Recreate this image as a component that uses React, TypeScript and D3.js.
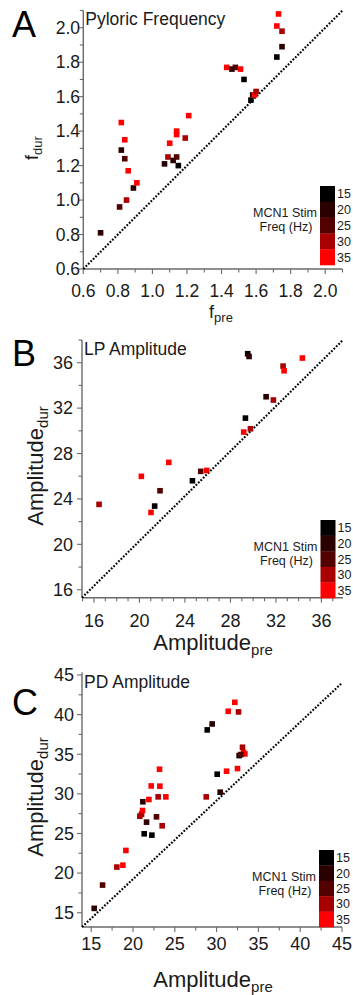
import React from 'react';
import * as d3 from 'd3';

// ---------- data ----------
const FREQS = [15, 20, 25, 30, 35];
const FREQ_COLORS = ['#000000', '#2b0000', '#520000', '#a80000', '#ff0000'];

// Panel A: Pyloric Frequency
const aPre = [0.70, 0.81, 0.85, 0.89, 0.91, 0.86, 0.84, 0.82, 0.84, 0.82, 1.07, 1.09, 1.12, 1.14, 1.15, 1.10, 1.14, 1.14, 1.19, 1.21, 1.43, 1.46, 1.48, 1.51, 1.53, 1.57, 1.58, 1.59, 1.60, 1.72, 1.75, 1.75, 1.72, 1.73];
const aDur = [0.81, 0.96, 1.00, 1.07, 1.10, 1.17, 1.24, 1.29, 1.35, 1.45, 1.21, 1.25, 1.23, 1.25, 1.20, 1.33, 1.38, 1.40, 1.36, 1.49, 1.77, 1.76, 1.77, 1.76, 1.70, 1.58, 1.61, 1.61, 1.63, 1.83, 1.89, 1.98, 2.01, 2.08];
const aHz = [20, 25, 30, 20, 35, 35, 25, 20, 35, 35, 20, 30, 20, 25, 15, 35, 35, 35, 30, 35, 35, 20, 25, 35, 15, 15, 20, 35, 30, 15, 20, 30, 35, 35];

// Panel B: LP Amplitude
const bPre = [16.45, 21.02, 21.34, 21.81, 20.17, 22.58, 24.66, 25.39, 25.92, 29.32, 29.17, 29.76, 29.52, 29.64, 31.14, 31.78, 32.63, 32.72, 34.33];
const bDur = [23.52, 22.81, 23.37, 24.72, 25.99, 27.22, 25.60, 26.43, 26.51, 31.12, 29.89, 30.18, 36.79, 36.55, 33.00, 32.71, 35.70, 35.29, 36.41];
const bHz = [30, 35, 15, 25, 35, 35, 15, 25, 35, 15, 35, 30, 15, 20, 20, 30, 30, 35, 35];

// Panel C: PD Amplitude
const cPre = [15.36, 16.36, 18.07, 18.79, 19.15, 21.34, 22.26, 21.62, 22.81, 23.49, 20.82, 21.02, 21.14, 21.18, 21.90, 22.18, 23.01, 23.21, 23.93, 23.17, 28.76, 28.88, 29.47, 30.07, 30.43, 31.19, 31.39, 32.18, 32.62, 32.50, 32.70, 33.10, 33.22, 33.38, 32.90];
const cDur = [15.55, 18.49, 20.76, 21.00, 22.86, 24.96, 24.79, 26.43, 27.10, 25.97, 27.18, 27.44, 27.90, 29.00, 29.29, 31.00, 29.62, 30.97, 29.62, 33.11, 29.62, 38.07, 38.82, 32.48, 30.21, 32.86, 40.42, 41.55, 40.34, 33.19, 34.83, 35.88, 35.21, 35.04, 34.96];
const cHz = [20, 25, 30, 35, 35, 15, 15, 20, 25, 30, 30, 30, 35, 20, 35, 35, 30, 35, 35, 35, 30, 15, 20, 15, 20, 35, 35, 35, 30, 35, 15, 30, 35, 35, 25];

// tick labels
const aTicks = [0.6, 0.8, 1.0, 1.2, 1.4, 1.6, 1.8, 2.0];
const aMinor = [0.6, 0.7, 0.8, 0.9, 1.0, 1.1, 1.2, 1.3, 1.4, 1.5, 1.6, 1.7, 1.8, 1.9, 2.0, 2.1];
const bTicks = [16, 20, 24, 28, 32, 36];
const bMinorX = [15, 16, 17, 18, 19, 20, 21, 22, 23, 24, 25, 26, 27, 28, 29, 30, 31, 32, 33, 34, 35, 36, 37];
const bMinorY = [16, 18, 20, 22, 24, 26, 28, 30, 32, 34, 36, 38];
const cTicks = [15, 20, 25, 30, 35, 40, 45];
const cMinor = [15, 17.5, 20, 22.5, 25, 27.5, 30, 32.5, 35, 37.5, 40, 42.5, 45];

// reference (identity) lines as drawn
const aDiag = [[0.6, 0.6], [2.1, 2.1]];
const bDiag = [[14.95, 15.3], [37.9, 38.0]];
const cDiag = [[13.9, 13.2], [45.0, 44.0]];

const FONT = "'Liberation Sans', Arial, Helvetica, sans-serif";

type PanelProps = {
  letter: string; title: string;
  pre: number[]; dur: number[]; hz: number[];
  xDomain: [number, number]; yDomain: [number, number];
  x0: number; x1: number; y0: number; y1: number;
  ticks: number[]; minorX: number[]; minorY: number[];
  fmt: (v: number) => string;
  diag: number[][];
  tickFont: number;
  yLabelRight: number; xLabelDy: number;
  xTitle: React.ReactNode; yTitle: React.ReactNode;
  xTitleX: number; xTitleY: number; yTitleX: number; yTitleY: number;
  legX: number; legTop: number; legH: number;
  letterY: number; titleY: number;
};

const color = d3.scaleOrdinal<number, string>().domain(FREQS).range(FREQ_COLORS);

function Panel(p: PanelProps) {
  const xs = d3.scaleLinear().domain(p.xDomain).range([p.x0, p.x1]);
  const ys = d3.scaleLinear().domain(p.yDomain).range([p.y0, p.y1]);
  const line = d3.line<number[]>().x(d => xs(d[0])).y(d => ys(d[1]));
  const band = d3.scaleBand<number>().domain(FREQS).range([p.legTop, p.legTop + p.legH]);
  const axisCol = '#6a6a6a';
  const sq = 5.6;
  const isMajor = (t: number) => p.ticks.some(v => Math.abs(v - t) < 1e-6);
  return (
    <g fontFamily={FONT}>
      <text x={12} y={p.letterY} fontSize={36} fill="#000">{p.letter}</text>
      <text x={p.x0 + 2} y={p.titleY} fontSize={17.5} fill="#1a1a1a">{p.title}</text>
      {/* axes */}
      <line x1={p.x0} x2={p.x0} y1={p.y0} y2={p.y1} stroke={axisCol} strokeWidth={1.4} />
      <line x1={p.x0} x2={p.x1} y1={p.y0} y2={p.y0} stroke={axisCol} strokeWidth={1.4} />
      {p.minorX.map((t, i) => (
        <line key={'mx' + i} x1={xs(t)} x2={xs(t)} y1={p.y0} y2={p.y0 + (isMajor(t) ? 5 : 3.5)} stroke={axisCol} strokeWidth={1.1} />
      ))}
      {p.minorY.map((t, i) => (
        <line key={'my' + i} x1={p.x0} x2={p.x0 - (isMajor(t) ? 5 : 3.5)} y1={ys(t)} y2={ys(t)} stroke={axisCol} strokeWidth={1.1} />
      ))}
      {p.ticks.filter(t => t >= p.xDomain[0] && t <= p.xDomain[1] + 1e-6).map((t, i) => (
        <text key={'tx' + i} x={xs(t)} y={p.y0 + p.xLabelDy} fontSize={p.tickFont} textAnchor="middle" fill="#1a1a1a">{p.fmt(t)}</text>
      ))}
      {p.ticks.filter(t => t >= p.yDomain[0] && t <= p.yDomain[1] + 1e-6).map((t, i) => (
        <text key={'ty' + i} x={p.yLabelRight} y={ys(t)} dy="0.35em" fontSize={p.tickFont} textAnchor="end" fill="#1a1a1a">{p.fmt(t)}</text>
      ))}
      {/* titles */}
      <text x={p.xTitleX} y={p.xTitleY} textAnchor="middle" fill="#1a1a1a">{p.xTitle}</text>
      <text transform={`translate(${p.yTitleX},${p.yTitleY}) rotate(-90)`} textAnchor="middle" fill="#1a1a1a">{p.yTitle}</text>
      {/* dotted reference line */}
      <path d={line(p.diag) || ''} stroke="#000" strokeWidth={2.1} strokeDasharray="1.8 1.6" fill="none" />
      {/* points */}
      {p.pre.map((v, i) => (
        <rect key={'pt' + i} x={xs(v) - sq / 2} y={ys(p.dur[i]) - sq / 2} width={sq} height={sq} fill={color(p.hz[i])} />
      ))}
      {/* legend */}
      {FREQS.map((f, i) => (
        <g key={'lg' + i}>
          <rect x={p.legX} y={band(f)} width={15} height={band.bandwidth() + 0.3} fill={color(f)} />
          <text x={p.legX + 17} y={(band(f) || 0) + band.bandwidth() / 2} dy="0.36em" fontSize={12.5} fill="#1a1a1a">{f}</text>
        </g>
      ))}
      <text x={p.legX - 35} y={p.legTop + 31} fontSize={12.5} textAnchor="middle" fill="#1a1a1a">MCN1 Stim</text>
      <text x={p.legX - 34} y={p.legTop + 45} fontSize={12.5} textAnchor="middle" fill="#1a1a1a">Freq (Hz)</text>
    </g>
  );
}

const fmt1 = d3.format('.1f');
const fmt0 = d3.format('d');

export default function App() {
  return (
    <svg width={353} height={995} viewBox="0 0 353 995" style={{ position: 'absolute', left: 0, top: 0, background: '#fff' }}>
      <rect width={353} height={995} fill="#fff" />
      <Panel letter="A" title="Pyloric Frequency" pre={aPre} dur={aDur} hz={aHz}
        xDomain={[0.6, 2.1]} yDomain={[0.6, 2.1]} x0={83.3} x1={342.5} y0={269} y1={10.5}
        ticks={aTicks} minorX={aMinor} minorY={aMinor} fmt={fmt1} diag={aDiag}
        tickFont={17.5} yLabelRight={80} xLabelDy={28}
        xTitle={<><tspan fontSize={18}>f</tspan><tspan fontSize={13} dy={4}>pre</tspan></>}
        yTitle={<><tspan fontSize={18}>f</tspan><tspan fontSize={13} dy={4}>dur</tspan></>}
        xTitleX={221} xTitleY={318} yTitleX={38} yTitleY={148}
        legX={320} legTop={186} legH={79} letterY={37} titleY={25} />
      <Panel letter="B" title="LP Amplitude" pre={bPre} dur={bDur} hz={bHz}
        xDomain={[14.95, 37.9]} yDomain={[15.3, 38]} x0={82} x1={343} y0={597.7} y1={340}
        ticks={bTicks} minorX={bMinorX} minorY={bMinorY} fmt={fmt0} diag={bDiag}
        tickFont={18} yLabelRight={73} xLabelDy={29}
        xTitle={<><tspan fontSize={22}>Amplitude</tspan><tspan fontSize={15} dy={5}>pre</tspan></>}
        yTitle={<><tspan fontSize={22}>Amplitude</tspan><tspan fontSize={15} dy={5}>dur</tspan></>}
        xTitleX={213} xTitleY={650} yTitleX={43} yTitleY={466}
        legX={320.5} legTop={520} legH={78} letterY={366} titleY={355} />
      <Panel letter="C" title="PD Amplitude" pre={cPre} dur={cDur} hz={cHz}
        xDomain={[13.9, 45]} yDomain={[13.2, 45.3]} x0={82} x1={342} y0={927} y1={672.6}
        ticks={cTicks} minorX={cMinor} minorY={cMinor} fmt={fmt0} diag={cDiag}
        tickFont={18} yLabelRight={74} xLabelDy={23}
        xTitle={<><tspan fontSize={22}>Amplitude</tspan><tspan fontSize={15} dy={5}>pre</tspan></>}
        yTitle={<><tspan fontSize={22}>Amplitude</tspan><tspan fontSize={15} dy={5}>dur</tspan></>}
        xTitleX={213} xTitleY={987} yTitleX={43} yTitleY={797}
        legX={319} legTop={850} legH={77} letterY={715} titleY={688} />
    </svg>
  );
}
